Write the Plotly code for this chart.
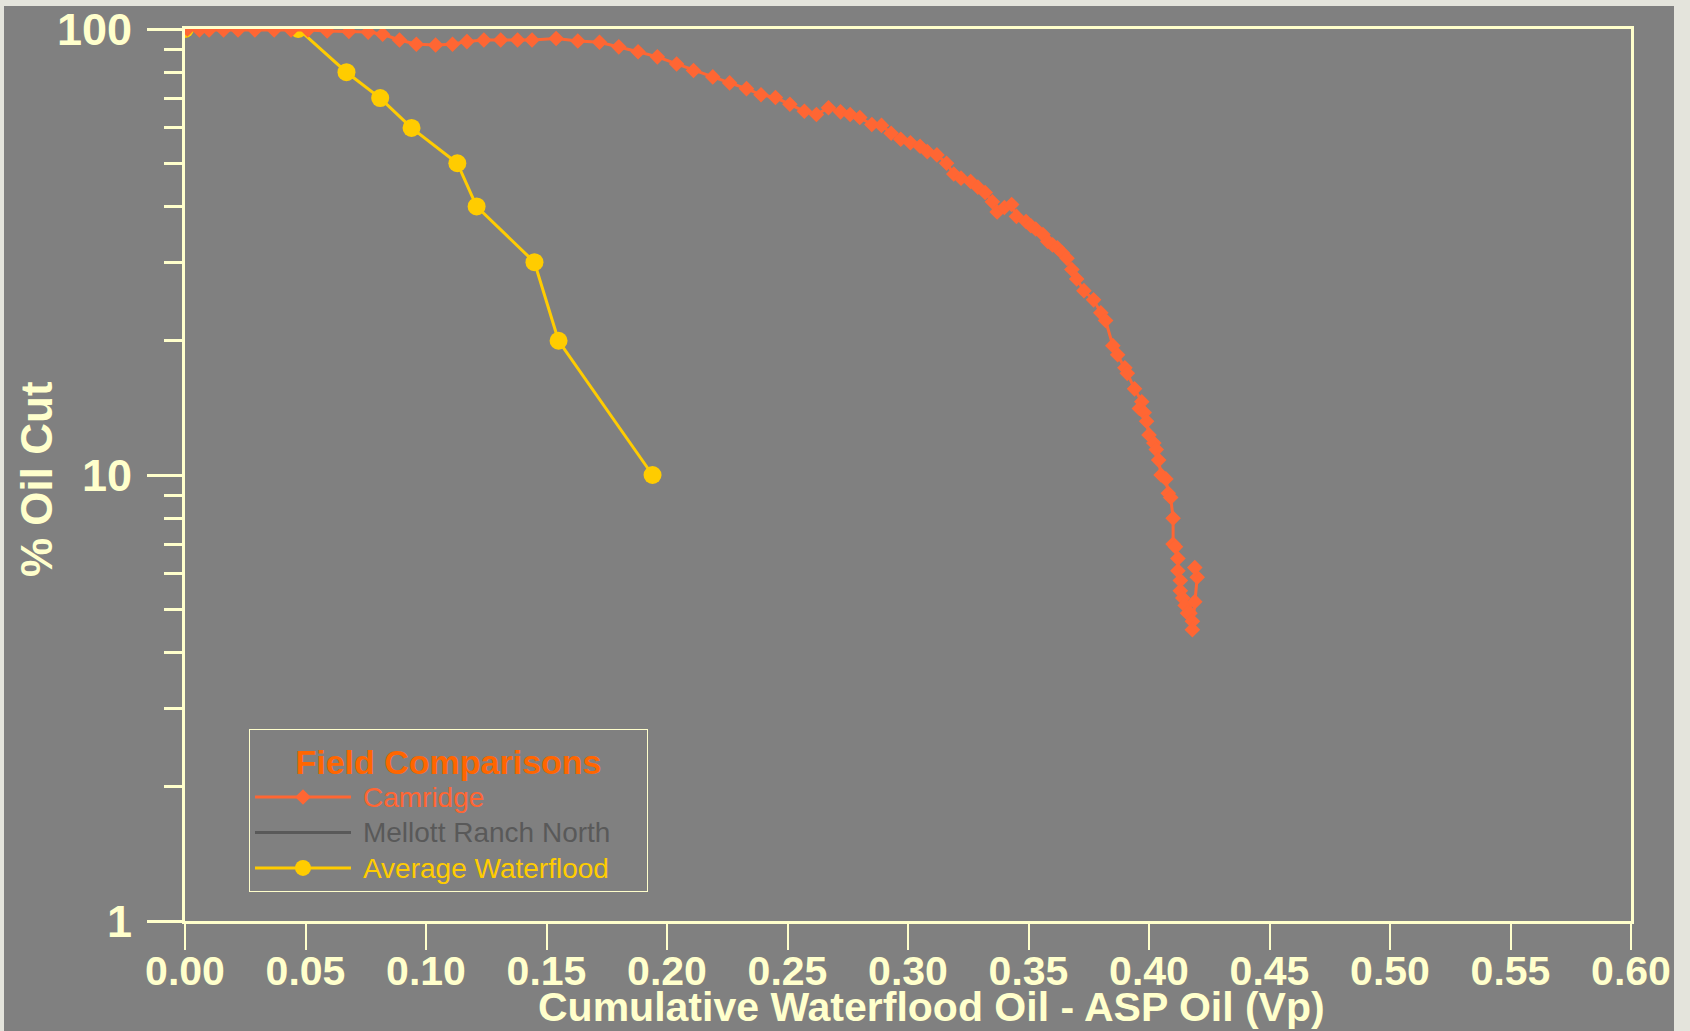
import plotly.graph_objects as go

# ---- data ----
camridge_x = [
    0.001, 0.006, 0.010, 0.016, 0.022, 0.029, 0.037, 0.044, 0.051, 0.059,
    0.068, 0.076, 0.082, 0.089, 0.096, 0.104, 0.111, 0.117, 0.124, 0.131,
    0.138, 0.144, 0.154, 0.163, 0.172, 0.180, 0.188, 0.196, 0.204, 0.211,
    0.219, 0.226, 0.233, 0.239, 0.245, 0.251, 0.257, 0.262, 0.267, 0.272,
    0.276, 0.280, 0.285, 0.289, 0.293, 0.297, 0.301, 0.305, 0.308, 0.312,
    0.316, 0.319, 0.322, 0.326, 0.329, 0.332, 0.335, 0.337, 0.340, 0.343,
    0.345, 0.349, 0.351, 0.353, 0.356, 0.358, 0.360, 0.362, 0.364, 0.366,
    0.368, 0.370, 0.373, 0.377, 0.380, 0.382, 0.385, 0.387, 0.390, 0.391,
    0.394, 0.397, 0.396, 0.398, 0.399, 0.400, 0.402, 0.403, 0.404, 0.405,
    0.407, 0.408, 0.409, 0.410, 0.410, 0.411, 0.412, 0.412, 0.413, 0.413,
    0.414, 0.415, 0.416, 0.417, 0.418, 0.418, 0.419, 0.420, 0.419,
]
camridge_y = [
    100, 99.5, 99.5, 99.5, 99.5, 99.5, 99.5, 99.5, 99.5, 99.0,
    98.7, 98.4, 97.3, 94.5, 92.4, 92.1, 92.4, 93.7, 94.5, 94.5,
    94.5, 94.5, 95.2, 94.0, 93.4, 91.2, 88.9, 86.6, 83.5, 80.7,
    78.1, 75.7, 73.5, 71.2, 70.2, 67.8, 65.4, 64.3, 66.6, 65.2,
    64.3, 63.3, 61.1, 60.8, 58.4, 56.6, 55.6, 54.6, 53.1, 52.2,
    50.0, 47.3, 46.3, 45.5, 44.2, 43.0, 41.0, 38.9, 39.8, 40.4,
    38.0, 37.0, 36.2, 35.6, 34.6, 33.4, 32.8, 32.3, 31.5, 30.6,
    28.9, 27.5, 25.9, 24.7, 23.1, 22.2, 19.5, 18.6, 17.4, 16.9,
    15.6, 14.6, 14.1, 13.8, 13.2, 12.3, 11.8, 11.4, 10.8, 10.0,
    9.8, 9.1, 8.9, 8.0, 7.0, 6.9, 6.5, 6.1, 5.8, 5.5,
    5.3, 5.1, 4.9, 4.9, 4.7, 4.5, 5.2, 5.9, 6.2,
]

mellott_x = [None]
mellott_y = [None]

waterflood_x = [0.000, 0.047, 0.067, 0.081, 0.094, 0.113, 0.121, 0.145, 0.155, 0.194]
waterflood_y = [100, 100, 80, 70, 60, 50, 40, 30, 20, 10]

y_tick_vals = [1, 10, 100]
y_tick_text = ["1", "10", "100"]
x_tick_start = 0.0
x_tick_step = 0.05

x_title = "Cumulative Waterflood Oil - ASP Oil (Vp)"
y_title = "% Oil Cut"
legend_title = "Field Comparisons"

# ---- styling ----
CREAM = "#FFFFCC"
GRAY_BG = "#808080"
OUTER = "#E4E4DC"
ORANGE = "#FF6633"
YELLOW = "#FFCC00"
DARK = "#595959"
FONT = "Liberation Sans, Arial, sans-serif"

W, H = 1690, 1031
ML, MR, MT, MB = 185, 59, 29, 110
PW, PH = W - ML - MR, H - MT - MB


def colored(name, color, trail=0):
    return "\u00a0<span style='color:%s;font-size:28px'>%s%s</span>" % (
        color, name, "\u00a0" * trail)


def px_to_paper_x(px):
    return (px - ML) / PW


def py_to_paper_y(py):
    return (H - MB - py) / PH


fig = go.Figure()

fig.add_trace(go.Scatter(
    x=waterflood_x, y=waterflood_y, name=colored("Average Waterflood", YELLOW),
    mode="lines+markers",
    line=dict(color=YELLOW, width=3), marker=dict(symbol="circle", size=18, color=YELLOW),
    legendrank=3,
))
fig.add_trace(go.Scatter(
    x=mellott_x, y=mellott_y, name=colored("Mellott Ranch North", DARK, 4), mode="lines",
    line=dict(color=DARK, width=3), legendrank=2,
))
fig.add_trace(go.Scatter(
    x=camridge_x, y=camridge_y, name=colored("Camridge", ORANGE), mode="lines+markers",
    line=dict(color=ORANGE, width=3), marker=dict(symbol="diamond", size=12, color=ORANGE),
    legendrank=1,
))

fig.add_shape(
    type="rect", xref="paper", yref="paper", layer="below",
    x0=px_to_paper_x(4), x1=px_to_paper_x(1674),
    y0=py_to_paper_y(1040), y1=py_to_paper_y(6),
    fillcolor=GRAY_BG, line=dict(width=0),
)

# axis titles
fig.add_annotation(
    text="<b>%s</b>" % x_title, xref="paper", yref="paper",
    x=px_to_paper_x(931), y=py_to_paper_y(1007), xanchor="center", yanchor="middle",
    showarrow=False, font=dict(family=FONT, size=41, color=CREAM),
)
fig.add_annotation(
    text="<b>%s</b>" % y_title, xref="paper", yref="paper", textangle=-90,
    x=px_to_paper_x(36), y=py_to_paper_y(479), xanchor="center", yanchor="middle",
    showarrow=False, font=dict(family=FONT, size=44, color=CREAM),
)

fig.update_layout(
    template="none",
    width=W, height=H,
    margin=dict(l=ML, r=MR, t=MT, b=MB, autoexpand=False),
    paper_bgcolor=OUTER, plot_bgcolor=GRAY_BG,
    font=dict(family=FONT, color=CREAM),
    showlegend=True,
    legend=dict(
        x=px_to_paper_x(249), y=py_to_paper_y(729), xanchor="left", yanchor="top",
        bgcolor="rgba(0,0,0,0)", bordercolor=CREAM, borderwidth=1,
        itemwidth=96, font=dict(family=FONT, size=25),
        title=dict(text="<b>%s</b>" % legend_title, side="top center",
                   font=dict(family=FONT, size=34, color="#FF6600")),
        traceorder="normal",
    ),
    xaxis=dict(
        range=[0, 0.6], tick0=x_tick_start, dtick=x_tick_step, tickformat=".2f",
        automargin=False,
        showgrid=False, zeroline=False,
        showline=True, linecolor=CREAM, linewidth=3, mirror=True,
        ticks="outside", ticklen=26, tickwidth=2, tickcolor=CREAM,
        ticklabelstandoff=-14,
        tickfont=dict(family=FONT, size=41, color=CREAM, weight="bold"),
    ),
    yaxis=dict(
        type="log", range=[0, 2], tickvals=y_tick_vals, ticktext=y_tick_text,
        automargin=False,
        showgrid=False, zeroline=False,
        showline=True, linecolor=CREAM, linewidth=3, mirror=True,
        ticks="outside", ticklen=35, tickwidth=3, tickcolor=CREAM,
        ticklabelstandoff=6,
        tickfont=dict(family=FONT, size=45, color=CREAM, weight="bold"),
        minor=dict(ticks="outside", ticklen=18, tickwidth=3, tickcolor=CREAM,
                   dtick="D1", showgrid=False),
    ),
)

fig.write_html(
    "out.html",
    config={"displayModeBar": False},
    post_script="document.body.style.margin='0px';document.body.style.overflow='hidden';",
)
